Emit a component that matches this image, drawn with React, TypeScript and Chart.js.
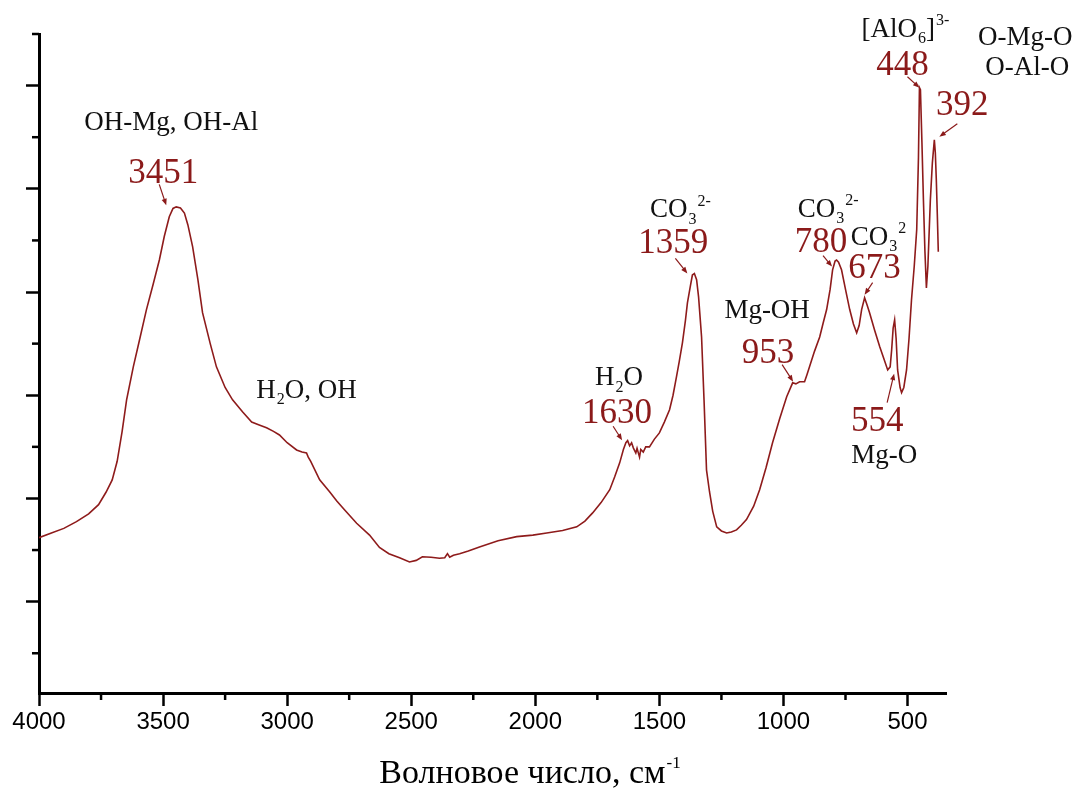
import React, { useEffect, useRef } from 'react';
import { Chart, registerables } from 'chart.js';

Chart.register(...registerables);

// Wavenumber (cm-1), descending
const WAVENUMBERS = [
  4000, 3950, 3900, 3849, 3800, 3760, 3730, 3705, 3685, 3665, 3647, 3620, 3595, 3567, 3540, 3515, 3495, 3475, 3460, 3447,
  3430, 3414, 3400, 3381, 3360, 3341, 3310, 3285, 3250, 3220, 3180, 3143, 3110, 3083, 3055, 3031, 3000, 2962, 2940, 2922,
  2915, 2905, 2869, 2829, 2800, 2769, 2720, 2668, 2628, 2590, 2547, 2507, 2480, 2455, 2420, 2386, 2365, 2354, 2345, 2330,
  2305, 2270, 2225, 2150, 2075, 2010, 1954, 1890, 1833, 1800, 1769, 1735, 1700, 1680, 1660, 1645, 1635, 1628, 1620, 1612,
  1605, 1595, 1590, 1580, 1575, 1565, 1555, 1540, 1520, 1500, 1480, 1459, 1445, 1431, 1420, 1407, 1395, 1387, 1375, 1367,
  1359, 1350, 1342, 1335, 1330, 1320, 1310, 1298, 1285, 1269, 1250, 1229, 1210, 1189, 1170, 1149, 1120, 1096, 1070, 1044,
  1015, 987, 963, 950, 935, 915, 905, 895, 875, 854, 840, 826, 812, 802, 792, 786, 778, 766, 750, 733,
  718, 705, 695, 685, 673, 663, 653, 632, 612, 595, 580, 570, 564, 558, 552, 546, 540, 530, 524, 515,
  504, 494, 484, 473, 463, 456, 452, 448, 442, 436, 430, 424, 418, 408, 400, 392, 388, 384, 380, 376,
];

// Transmittance / intensity (arbitrary units)
const INTENSITY = [
  3.24, 3.33, 3.42, 3.55, 3.70, 3.88, 4.12, 4.36, 4.72, 5.30, 5.91, 6.55, 7.07, 7.66, 8.15, 8.62, 9.08, 9.46, 9.62, 9.65,
  9.63, 9.53, 9.30, 8.88, 8.25, 7.60, 7.00, 6.55, 6.15, 5.91, 5.68, 5.48, 5.42, 5.37, 5.30, 5.23, 5.08, 4.94, 4.90, 4.88,
  4.80, 4.72, 4.36, 4.13, 3.95, 3.78, 3.52, 3.29, 3.05, 2.93, 2.85, 2.77, 2.80, 2.87, 2.86, 2.84, 2.85, 2.93, 2.86, 2.90,
  2.93, 2.98, 3.06, 3.18, 3.26, 3.29, 3.33, 3.38, 3.45, 3.56, 3.72, 3.92, 4.17, 4.42, 4.69, 4.95, 5.08, 5.12, 5.02, 5.08,
  4.98, 4.88, 4.97, 4.80, 4.95, 4.90, 5.00, 5.00, 5.15, 5.27, 5.48, 5.72, 6.00, 6.36, 6.65, 7.02, 7.45, 7.79, 8.12, 8.33,
  8.36, 8.24, 7.90, 7.45, 7.13, 5.90, 4.55, 4.13, 3.75, 3.45, 3.37, 3.33, 3.35, 3.39, 3.48, 3.59, 3.85, 4.17, 4.60, 5.08,
  5.55, 5.97, 6.24, 6.22, 6.26, 6.26, 6.40, 6.55, 6.85, 7.13, 7.40, 7.66, 8.05, 8.43, 8.60, 8.62, 8.58, 8.43, 8.05, 7.66,
  7.38, 7.21, 7.35, 7.66, 7.89, 7.75, 7.60, 7.25, 6.94, 6.70, 6.49, 6.55, 6.88, 7.30, 7.46, 7.10, 6.49, 6.15, 6.05, 6.15,
  6.49, 7.10, 7.85, 8.50, 9.21, 10.6, 11.96, 11.92, 10.9, 9.79, 8.80, 8.08, 8.50, 9.79, 10.5, 10.95, 10.7, 10.17, 9.50, 8.78,
];

const X_MIN = 345;
const X_MAX = 4000;
const X_MAJOR_TICKS = [4000, 3500, 3000, 2500, 2000, 1500, 1000, 500];
const X_MINOR_TICKS = [3750, 3250, 2750, 2250, 1750, 1250, 750];
const Y_MIN = 0.23;
const Y_MAX = 13;
const Y_MAJOR_TICKS = [2, 4, 6, 8, 10, 12];
const Y_MINOR_TICKS = [1, 3, 5, 7, 9, 11, 13];

const X_TITLE = 'Волновое число, см';
const X_TITLE_SUP = '-1';

// Peak labels (red numbers)
const PEAK_WN = [3451, 1630, 1359, 953, 780, 673, 554, 448, 392];
const PEAK_TEXT = ['3451', '1630', '1359', '953', '780', '673', '554', '448', '392'];

// Assignment labels (black), anchored at a wavenumber on the curve
const GROUP_WN = [3451, 3083, 1630, 1359, 953, 780, 673, 554, 448, 392, 392];
const GROUP_TEXT = [
  'OH-Mg, OH-Al', 'H_{2}O, OH', 'H_{2}O', 'CO_{3}^{2-}', 'Mg-OH', 'CO_{3}^{2-}', 'CO_{3}^{2}', 'Mg-O',
  '[AlO_{6}]^{3-}', 'O-Mg-O', 'O-Al-O',
];

// Layout offsets in pixels relative to the curve anchor (kept apart from data)
const PEAK_LAYOUT = [
  { dx: -12, dy: -24, tail: [-16, -23], tip: [-9, -2] },
  { dx: -10, dy: -18, tail: [-14, -15], tip: [-5, -1] },
  { dx: -21, dy: -20, tail: [-19, -15], tip: [-7, 0] },
  { dx: -27, dy: -21, tail: [-13, -19], tip: [-2, -2] },
  { dx: -17, dy: -10, tail: [-15, -6], tip: [-6, 5] },
  { dx: 10, dy: -20, tail: [8, -15], tip: [0, -3] },
  { dx: -17, dy: 108, tail: [-7, 80], tip: [0, 51] },
  { dx: -18, dy: -15, tail: [-13, -13], tip: [-1, -2] },
  { dx: 28, dy: -25, tail: [23, -16], tip: [5, -3] },
];
const GROUP_LAYOUT = [
  { dx: -4, dy: -77 },
  { dx: 40, dy: -30 },
  { dx: -8, dy: -56 },
  { dx: -14, dy: -56 },
  { dx: -28, dy: -66 },
  { dx: -10, dy: -45 },
  { dx: 14, dy: -53 },
  { dx: -10, dy: 140 },
  { dx: -15, dy: -53 },
  { dx: 91, dy: -95 },
  { dx: 93, dy: -65 },
];

const CURVE_COLOR = '#8e1b1b';
const NUMBER_COLOR = '#8b1a1a';
const SERIF = "'Liberation Serif', 'Times New Roman', serif";
const SANS = "'Liberation Sans Narrow', 'Liberation Sans', Arial, sans-serif";

function valueAt(wn: number): number {
  for (let i = 0; i < WAVENUMBERS.length - 1; i++) {
    const a = WAVENUMBERS[i];
    const b = WAVENUMBERS[i + 1];
    if ((wn <= a && wn >= b) || (wn >= a && wn <= b)) {
      const t = a === b ? 0 : (wn - a) / (b - a);
      return INTENSITY[i] + t * (INTENSITY[i + 1] - INTENSITY[i]);
    }
  }
  return INTENSITY[INTENSITY.length - 1];
}

type Part = { t: string; kind: 'n' | 'sub' | 'sup' };
function parseRich(s: string): Part[] {
  const parts: Part[] = [];
  let i = 0;
  let buf = '';
  while (i < s.length) {
    if ((s[i] === '_' || s[i] === '^') && s[i + 1] === '{') {
      if (buf) { parts.push({ t: buf, kind: 'n' }); buf = ''; }
      const end = s.indexOf('}', i);
      parts.push({ t: s.slice(i + 2, end), kind: s[i] === '_' ? 'sub' : 'sup' });
      i = end + 1;
    } else {
      buf += s[i];
      i++;
    }
  }
  if (buf) parts.push({ t: buf, kind: 'n' });
  return parts;
}

function drawRich(ctx: CanvasRenderingContext2D, s: string, cx: number, baseline: number, size: number, color: string) {
  const parts = parseRich(s);
  const small = Math.round(size * 0.58);
  const widths = parts.map((p) => {
    ctx.font = `${p.kind === 'n' ? size : small}px ${SERIF}`;
    return ctx.measureText(p.t).width + (p.kind === 'n' ? 0 : 1);
  });
  const total = widths.reduce((a, b) => a + b, 0);
  let x = cx - total / 2;
  ctx.fillStyle = color;
  ctx.textAlign = 'left';
  ctx.textBaseline = 'alphabetic';
  parts.forEach((p, i) => {
    ctx.font = `${p.kind === 'n' ? size : small}px ${SERIF}`;
    let y = baseline;
    if (p.kind === 'sub') y = baseline + size * 0.25;
    if (p.kind === 'sup') y = baseline - size * 0.43;
    ctx.fillText(p.t, x + (p.kind === 'n' ? 0 : 1), y);
    x += widths[i];
  });
}

function drawArrow(ctx: CanvasRenderingContext2D, x1: number, y1: number, x2: number, y2: number, color: string) {
  const ang = Math.atan2(y2 - y1, x2 - x1);
  const head = 7;
  ctx.strokeStyle = color;
  ctx.fillStyle = color;
  ctx.lineWidth = 1.2;
  ctx.beginPath();
  ctx.moveTo(x1, y1);
  ctx.lineTo(x2 - Math.cos(ang) * head * 0.6, y2 - Math.sin(ang) * head * 0.6);
  ctx.stroke();
  ctx.beginPath();
  ctx.moveTo(x2, y2);
  ctx.lineTo(x2 - head * Math.cos(ang - 0.38), y2 - head * Math.sin(ang - 0.38));
  ctx.lineTo(x2 - head * Math.cos(ang + 0.38), y2 - head * Math.sin(ang + 0.38));
  ctx.closePath();
  ctx.fill();
}

const decorPlugin = {
  id: 'decor',
  afterDraw(chart: any) {
    const ctx: CanvasRenderingContext2D = chart.ctx;
    const xs = chart.scales.x;
    const ys = chart.scales.y;
    const ca = chart.chartArea;
    ctx.save();
    // minor ticks
    ctx.strokeStyle = '#000';
    ctx.lineWidth = 2.5;
    X_MINOR_TICKS.forEach((v) => {
      const px = xs.getPixelForValue(v);
      ctx.beginPath();
      ctx.moveTo(px, ca.bottom);
      ctx.lineTo(px, ca.bottom + 7);
      ctx.stroke();
    });
    Y_MINOR_TICKS.forEach((v) => {
      const py = ys.getPixelForValue(v);
      ctx.beginPath();
      ctx.moveTo(ca.left - 7, py);
      ctx.lineTo(ca.left, py);
      ctx.stroke();
    });

    // axis title
    const cx = (ca.left + ca.right) / 2 + 37;
    const base = ca.bottom + 90;
    ctx.font = `34px ${SERIF}`;
    const w1 = ctx.measureText(X_TITLE).width;
    ctx.font = `17px ${SERIF}`;
    const w2 = ctx.measureText(X_TITLE_SUP).width;
    const startX = cx - (w1 + w2) / 2;
    ctx.fillStyle = '#000';
    ctx.textAlign = 'left';
    ctx.textBaseline = 'alphabetic';
    ctx.font = `34px ${SERIF}`;
    ctx.fillText(X_TITLE, startX, base);
    ctx.font = `17px ${SERIF}`;
    ctx.fillText(X_TITLE_SUP, startX + w1 + 1, base - 15);

    // group labels
    GROUP_WN.forEach((wn, i) => {
      const ax = xs.getPixelForValue(wn);
      const ay = ys.getPixelForValue(valueAt(wn));
      const L = GROUP_LAYOUT[i];
      drawRich(ctx, GROUP_TEXT[i], ax + L.dx, ay + L.dy, 27, '#111');
    });

    // peak numbers + arrows
    PEAK_WN.forEach((wn, i) => {
      const ax = xs.getPixelForValue(wn);
      const ay = ys.getPixelForValue(valueAt(wn));
      const L = PEAK_LAYOUT[i];
      ctx.font = `35px ${SERIF}`;
      ctx.fillStyle = NUMBER_COLOR;
      ctx.textAlign = 'center';
      ctx.textBaseline = 'alphabetic';
      ctx.fillText(PEAK_TEXT[i], ax + L.dx, ay + L.dy);
      drawArrow(ctx, ax + L.tail[0], ay + L.tail[1], ax + L.tip[0], ay + L.tip[1], NUMBER_COLOR);
    });
    ctx.restore();
  },
};

export default function App() {
  const canvasRef = useRef<HTMLCanvasElement | null>(null);

  useEffect(() => {
    if (!canvasRef.current) return;
    const points = WAVENUMBERS.map((x, i) => ({ x, y: INTENSITY[i] }));
    const chart = new Chart(canvasRef.current, {
      type: 'line',
      data: {
        datasets: [
          {
            data: points,
            borderColor: CURVE_COLOR,
            borderWidth: 1.6,
            pointRadius: 0,
            tension: 0,
            fill: false,
          },
        ],
      },
      options: {
        animation: false,
        responsive: true,
        maintainAspectRatio: false,
        layout: { padding: { left: 26, top: 34, right: 132, bottom: 54 } },
        plugins: { legend: { display: false }, tooltip: { enabled: false }, title: { display: false } },
        scales: {
          x: {
            type: 'linear',
            reverse: true,
            min: X_MIN,
            max: X_MAX,
            afterBuildTicks: (scale: any) => { scale.ticks = X_MAJOR_TICKS.map((v) => ({ value: v })); },
            afterFit: (scale: any) => { scale.height = 45; },
            ticks: {
              autoSkip: false,
              maxRotation: 0,
              padding: 2,
              color: '#000',
              font: { family: SANS, size: 24 },
              callback: (v: any) => String(v),
            },
            grid: {
              display: true,
              drawOnChartArea: false,
              drawTicks: true,
              tickLength: 13,
              tickWidth: 2.5,
              tickColor: '#000',
            },
            border: { display: true, color: '#000', width: 3 },
          },
          y: {
            type: 'linear',
            min: Y_MIN,
            max: Y_MAX,
            afterBuildTicks: (scale: any) => { scale.ticks = Y_MAJOR_TICKS.map((v) => ({ value: v })); },
            afterFit: (scale: any) => { scale.width = 13; },
            ticks: { display: false },
            grid: {
              display: true,
              drawOnChartArea: false,
              drawTicks: true,
              tickLength: 13,
              tickWidth: 2.5,
              tickColor: '#000',
            },
            border: { display: true, color: '#000', width: 3 },
          },
        },
      },
      plugins: [decorPlugin],
    });
    return () => chart.destroy();
  }, []);

  return (
    <div style={{ position: 'fixed', left: 0, top: 0, width: 1078, height: 792, background: '#fff' }}>
      <canvas ref={canvasRef} />
    </div>
  );
}
